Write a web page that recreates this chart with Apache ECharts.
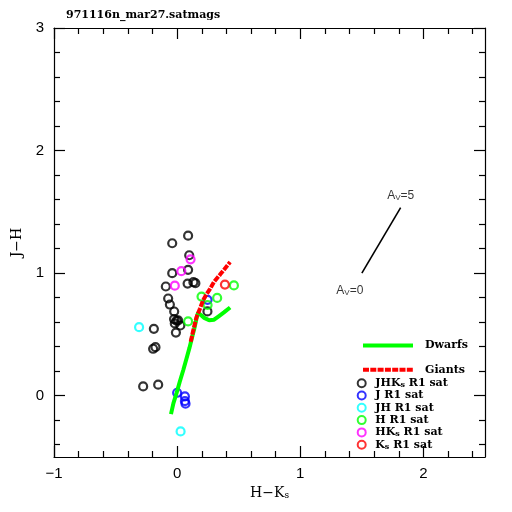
<!DOCTYPE html>
<html><head><meta charset="utf-8">
<script src="https://cdn.jsdelivr.net/npm/echarts@6/dist/echarts.min.js"></script>
<style>html,body{margin:0;padding:0;background:#fff}#c{width:512px;height:512px}</style>
</head><body><div id="c"></div>
<script>
const chartTitle = '971116n_mar27.satmags';
const xName = 'H−K{sub|s}';
const yName = 'J−H';
const xMajorTicks = [-1, 0, 1, 2];
const xMinorTicks = [-0.8,-0.6,-0.4,-0.2,0.2,0.4,0.6,0.8,1.2,1.4,1.6,1.8,2.2,2.4];
const yMajorTicks = [0, 1, 2, 3];
const yMinorTicks = [-0.4,-0.2,0.2,0.4,0.6,0.8,1.2,1.4,1.6,1.8,2.2,2.4,2.6,2.8];

const dwarfs = [[-0.05,-0.15],[-0.03,-0.06],[-0.005,0.02],[0.02,0.11],[0.05,0.21],[0.075,0.30],[0.10,0.39],[0.12,0.47],[0.14,0.55],[0.155,0.62],[0.17,0.68],[0.19,0.66],[0.22,0.635],[0.26,0.615],[0.30,0.62],[0.34,0.65],[0.38,0.68],[0.43,0.72]];
const giants = [[0.11,0.44],[0.13,0.53],[0.157,0.64],[0.185,0.71],[0.211,0.78],[0.24,0.83],[0.266,0.87],[0.30,0.93],[0.35,0.99],[0.39,1.04],[0.43,1.09]];

const jhksSat = [[0.089,1.306],[-0.04,1.244],[0.098,1.146],[-0.04,1.0],[0.089,1.027],[0.085,0.915],[0.132,0.926],[0.148,0.918],[-0.092,0.891],[-0.073,0.793],[-0.059,0.744],[-0.024,0.687],[-0.025,0.625],[-0.005,0.612],[0.008,0.614],[0.026,0.573],[-0.019,0.59],[0.246,0.688],[-0.189,0.546],[-0.01,0.515],[-0.176,0.396],[-0.195,0.383],[-0.276,0.076],[-0.154,0.09]];
const jSat = [[0.247,0.782],[0.0,0.024],[0.063,-0.006],[0.063,-0.044],[0.068,-0.065]];
const jhSat = [[-0.309,0.559],[0.028,-0.291]];
const hSat = [[0.461,0.9],[0.198,0.809],[0.325,0.798],[0.247,0.74],[0.089,0.606]];
const hksSat = [[0.109,1.113],[0.034,1.016],[-0.019,0.898]];
const ksSat = [[0.388,0.907]];

const reddening = [[1.5,1.0],[1.815,1.535]];
const reddeningLabels = ['A{sub|V}=0','A{sub|V}=5'];

const lineNames = ['Dwarfs','Giants'];
const satNames = ['JHKs R1 sat','J R1 sat','JH R1 sat','H R1 sat','HKs R1 sat','Ks R1 sat'];
const satData = [jhksSat, jSat, jhSat, hSat, hksSat, ksSat];
const satColors = ['#000000','#0000ff','#00ffff','#00ff00','#ff00ff','#ff0000'];

const serif = 'DejaVu Serif';
const sans = 'Liberation Sans';
const subStyle = {fontSize: 8, lineHeight: 4, verticalAlign: 'bottom', fontFamily: serif, fontWeight: 'bold', color: '#000'};

function xAx(pos, ticks, len, labels, line) {
  return {
    type: 'value', position: pos, min: -1, max: 2.5,
    splitLine: {show: false},
    axisLine: {show: line, onZero: false, lineStyle: {color: '#000', width: 1.2}},
    axisTick: {show: true, inside: true, length: len, customValues: ticks, lineStyle: {color: '#000', width: 1.2}},
    axisLabel: labels ? {show: true, customValues: ticks, margin: 9, color: '#000', fontFamily: sans, fontSize: 15,
      formatter: v => v < 0 ? '\u2212' + Math.abs(v) : String(v)} : {show: false}
  };
}
function yAx(pos, ticks, len, labels, line) {
  return {
    type: 'value', position: pos, min: -0.5, max: 3,
    splitLine: {show: false},
    axisLine: {show: line, onZero: false, lineStyle: {color: '#000', width: 1.2}},
    axisTick: {show: true, inside: true, length: len, customValues: ticks, lineStyle: {color: '#000', width: 1.2}},
    axisLabel: labels ? {show: true, customValues: ticks, margin: 10, color: '#000', fontFamily: sans, fontSize: 15,
      formatter: v => v < 0 ? '\u2212' + Math.abs(v) : String(v)} : {show: false}
  };
}

const xAxes = [
  Object.assign(xAx('bottom', xMajorTicks, 11, true, true), {
    name: xName, nameLocation: 'middle', nameGap: 29,
    nameTextStyle: {color: '#000', fontFamily: serif, fontSize: 14, rich: {sub: Object.assign({}, subStyle, {fontWeight: 'normal', fontSize: 9})}}
  }),
  xAx('bottom', xMinorTicks, 6, false, false),
  xAx('top', xMajorTicks, 11, false, true),
  xAx('top', xMinorTicks, 6, false, false)
];
const yAxes = [
  Object.assign(yAx('left', yMajorTicks, 11, true, true), {
    name: yName, nameLocation: 'middle', nameGap: 27, nameRotate: 90,
    nameTextStyle: {color: '#000', fontFamily: serif, fontSize: 14}
  }),
  yAx('left', yMinorTicks, 6, false, false),
  yAx('right', yMajorTicks, 11, false, true),
  yAx('right', yMinorTicks, 6, false, false)
];

const series = [];
satNames.forEach((n, i) => {
  series.push({
    name: n, type: 'scatter', data: satData[i], symbol: 'circle', symbolSize: 8,
    itemStyle: {color: 'rgba(255,255,255,0)', borderColor: satColors[i], borderWidth: 2.2},
    emphasis: {disabled: true}, z: 2
  });
});
series.push({
  name: 'Dwarfs', type: 'line', data: dwarfs, showSymbol: false, symbol: 'none', smooth: false,
  lineStyle: {color: '#00ff00', width: 4}, itemStyle: {color: '#00ff00'}, z: 3, emphasis: {disabled: true}
});
series.push({
  name: 'Giants', type: 'line', data: giants, showSymbol: false, symbol: 'none',
  lineStyle: {color: '#ff0000', width: 4, type: [6, 1.3]}, itemStyle: {color: '#ff0000'}, z: 4, emphasis: {disabled: true}
});
series.push({
  name: 'reddening', type: 'line', data: reddening, showSymbol: false, symbol: 'none',
  lineStyle: {color: '#000', width: 1.6}, z: 5, emphasis: {disabled: true}, silent: true
});
series.push({
  name: 'reddeningLabels', type: 'scatter', symbol: 'circle', symbolSize: 1,
  itemStyle: {color: 'rgba(0,0,0,0)'},
  data: reddening.map((p, i) => ({
    value: p,
    label: {show: true, formatter: reddeningLabels[i], position: i === 0 ? 'bottom' : 'top',
      offset: i === 0 ? [-12, 6] : [0, 0], color: '#000', fontFamily: sans, fontSize: 12,
      rich: {sub: {fontSize: 8, lineHeight: 4, verticalAlign: 'bottom', fontFamily: sans, color: '#000'}}}
  })),
  z: 5, emphasis: {disabled: true}, silent: true
});

const chart = echarts.init(document.getElementById('c'), null, {renderer: 'canvas'});
chart.setOption({
  animation: false,
  backgroundColor: '#fff',
  title: {text: chartTitle, left: 66, top: 10, padding: 0,
    textStyle: {fontFamily: serif, fontWeight: 'bold', fontSize: 11, color: '#000'}},
  grid: {left: 54, right: 27, top: 28, bottom: 55, containLabel: false},
  xAxis: xAxes,
  yAxis: yAxes,
  legend: [
    {orient: 'vertical', left: 361, top: 340, padding: 0, itemWidth: 50, itemHeight: 14, itemGap: 13,
      selectedMode: false, data: lineNames,
      itemStyle: {color: 'rgba(0,0,0,0)', borderColor: 'rgba(0,0,0,0)', borderWidth: 0},
      lineStyle: {width: 4},
      textStyle: {fontFamily: serif, fontWeight: 'bold', fontSize: 11, color: '#000', padding: [0, 0, 0, 7]}},
    {orient: 'vertical', left: 356.7, top: 377.2, padding: 0, itemWidth: 8, itemHeight: 8, itemGap: 0.3,
      selectedMode: false, data: satNames,
      formatter: n => n.replace('Ks', 'K{sub|s}'),
      textStyle: {fontFamily: serif, fontWeight: 'bold', fontSize: 11, lineHeight: 12, color: '#000', padding: [0, 0, 0, 4.6],
        rich: {sub: subStyle}}}
  ],
  series: series
});
</script></body></html>
